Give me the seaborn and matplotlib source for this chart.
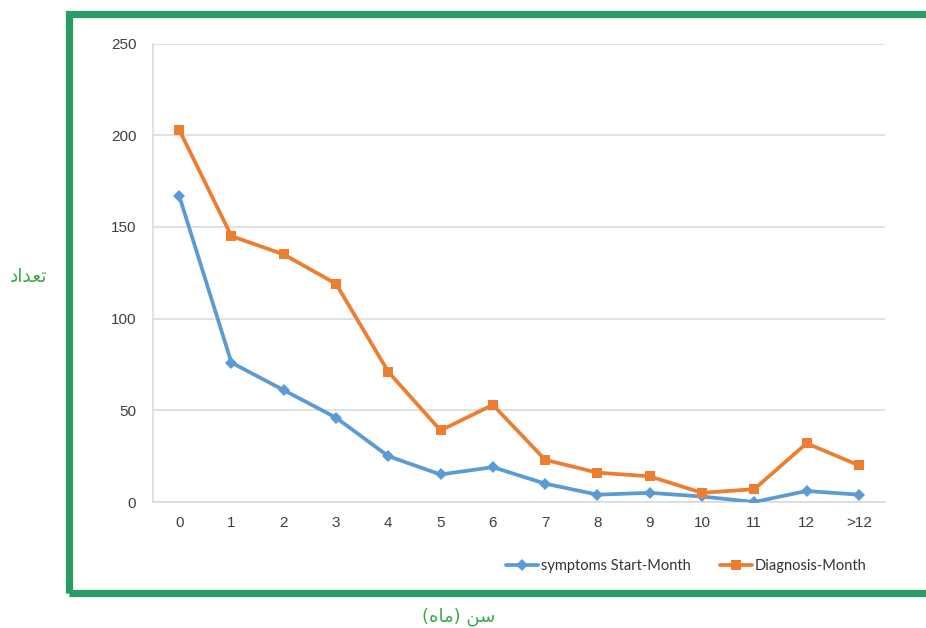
import matplotlib
matplotlib.use("Agg")
import matplotlib.pyplot as plt
from matplotlib.patches import Rectangle
import seaborn as sns
import pandas as pd

categories = ["0", "1", "2", "3", "4", "5", "6", "7", "8", "9", "10", "11", "12", ">12"]
symptoms_start = [167, 76, 61, 46, 25, 15, 19, 10, 4, 5, 3, 0, 6, 4]
diagnosis = [203, 145, 135, 119, 71, 39, 53, 23, 16, 14, 5, 7, 32, 20]
series_names = ["symptoms Start-Month", "Diagnosis-Month"]
y_ticks = [0, 50, 100, 150, 200, 250]
# Persian labels written in visual order with Arabic presentation forms
y_label = "\uFEA9\uFE8D\uFEAA\uFECC\uFE97"          # تعداد
x_label = "(\uFEE9\uFE8E\uFEE3) \uFEE6\uFEB3"        # سن (ماه)

df = pd.DataFrame({
    "month": categories * 2,
    "count": symptoms_start + diagnosis,
    "series": [series_names[0]] * len(categories) + [series_names[1]] * len(categories),
})

sns.set_theme(style="white")
plt.rcParams["font.family"] = ["Liberation Sans", "DejaVu Sans"]

fig = plt.figure(figsize=(9.26, 6.28), dpi=100)
ax = fig.add_axes([153 / 926, 1 - 502 / 628, 732 / 926, 458.5 / 628])

palette = {series_names[0]: "#5B9BD5", series_names[1]: "#ED7D31"}
markers = {series_names[0]: "D", series_names[1]: "s"}
sizes = {series_names[0]: 6, series_names[1]: 7.5}

for name in series_names:
    sub = df[df["series"] == name]
    sns.lineplot(data=sub, x="month", y="count", ax=ax, sort=False,
                 color=palette[name], marker=markers[name], markersize=sizes[name],
                 markeredgewidth=0, linewidth=2.7, label=name, zorder=3)

ax.set_xlim(-0.5, len(categories) - 0.5)
ax.set_ylim(0, 250)
ax.set_yticks(y_ticks)
ax.yaxis.grid(True, color="#D9D9D9", linewidth=1.1)
ax.xaxis.grid(False)
for side in ["top", "right"]:
    ax.spines[side].set_visible(False)
for side in ["left", "bottom"]:
    ax.spines[side].set_color("#D9D9D9")
    ax.spines[side].set_linewidth(1.1)
ax.tick_params(axis="both", length=0, colors="#404040", labelsize=11)
ax.tick_params(axis="y", pad=12)
ax.tick_params(axis="x", pad=10)
ax.set_xlabel("")
ax.set_ylabel("")

leg = ax.get_legend()
handles, labels = ax.get_legend_handles_labels()
leg.remove()
fig.legend(handles, labels, loc="center", bbox_to_anchor=(686 / 926, 1 - 566 / 628),
           ncol=2, frameon=False, handlelength=2.2, handletextpad=0.2, columnspacing=2.0,
           prop={"family": ["Lato", "DejaVu Sans"], "size": 10.5}, labelcolor="#333333")

# green frame
fig.patches.append(Rectangle((69 / 926, 1 - 593 / 628), 870 / 926, 579.5 / 628,
                             transform=fig.transFigure, fill=False,
                             edgecolor="#2A9D66", linewidth=5.2, zorder=0))

fig.text(29 / 926, 1 - 277 / 628, y_label, color="#3BAA4A", fontsize=13.5,
         family=["DejaVu Sans"], ha="center", va="center")
fig.text(459 / 926, 1 - 617 / 628, x_label, color="#3BAA4A", fontsize=13,
         family=["DejaVu Sans"], ha="center", va="center")

fig.savefig("out.png", dpi=100, facecolor="white")
